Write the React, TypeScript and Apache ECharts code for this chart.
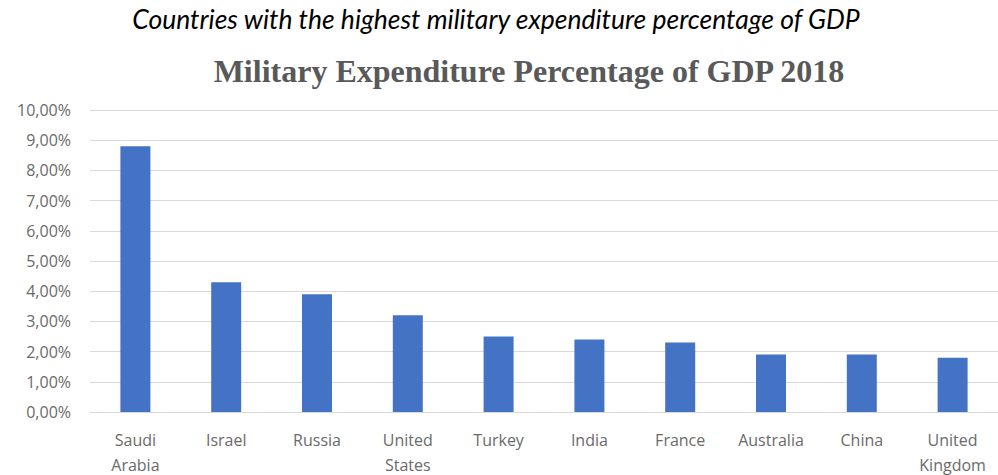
import React, { useEffect, useRef } from "react";
import * as echarts from "echarts";

const categories = ["Saudi\nArabia", "Israel", "Russia", "United\nStates", "Turkey", "India", "France", "Australia", "China", "United\nKingdom"];
const values = [8.8, 4.3, 3.9, 3.2, 2.5, 2.4, 2.3, 1.9, 1.9, 1.8];
const subtitle = "Countries with the highest military expenditure percentage of GDP";
const chartTitle = "Military Expenditure Percentage of GDP 2018";

export default function App() {
  const ref = useRef<HTMLDivElement>(null);
  useEffect(() => {
    if (!ref.current) return;
    const chart = echarts.init(ref.current, null, { renderer: "svg" });
    chart.setOption({
      animation: false,
      backgroundColor: "#ffffff",
      graphic: [
        {
          type: "text",
          x: 496,
          y: 19,
          style: {
            text: subtitle,
            fontFamily: "Lato",
            fontStyle: "italic",
            fontSize: 26.5,
            fill: "#000000",
            textAlign: "center",
            textVerticalAlign: "middle",
          },
        },
        {
          type: "text",
          x: 529,
          y: 71,
          style: {
            text: chartTitle,
            fontFamily: "Liberation Serif",
            fontWeight: "bold",
            fontSize: 32,
            fill: "#595959",
            textAlign: "center",
            textVerticalAlign: "middle",
          },
        },
      ],
      grid: { left: 90, right: 0, top: 110, bottom: 63, containLabel: false, outerBoundsMode: "none" },
      xAxis: {
        type: "category",
        data: categories,
        axisLine: { show: true, lineStyle: { color: "#d9d9d9", width: 1 } },
        axisTick: { show: false },
        axisLabel: {
          color: "#6a6a6a",
          fontFamily: "Open Sans",
          fontSize: 16,
          margin: 15,
          lineHeight: 25,
          interval: 0,
        },
      },
      yAxis: {
        type: "value",
        min: 0,
        max: 10,
        interval: 1,
        axisLine: { show: false },
        axisTick: { show: false },
        splitLine: { lineStyle: { color: "#d9d9d9", width: 1 } },
        axisLabel: {
          color: "#6a6a6a",
          fontFamily: "Open Sans",
          fontSize: 16,
          margin: 19,
          formatter: (v: number) => v.toFixed(2).replace(".", ",") + "%",
        },
      },
      series: [
        {
          type: "bar",
          data: values,
          barWidth: 30,
          itemStyle: { color: "#4472c4" },
        },
      ],
    });
    return () => chart.dispose();
  }, []);
  return <div ref={ref} style={{ position: "fixed", left: 0, top: 0, width: 998, height: 475 }} />;
}
